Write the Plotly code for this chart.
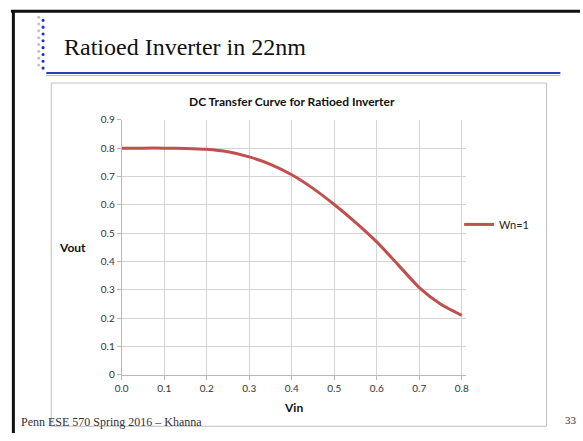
import plotly.graph_objects as go

# ---- data ----
vin = [0.00, 0.05, 0.10, 0.15, 0.20, 0.25, 0.30, 0.35, 0.40, 0.45,
       0.50, 0.55, 0.60, 0.65, 0.70, 0.75, 0.80]
vout = [0.800, 0.800, 0.800, 0.799, 0.796, 0.787, 0.769, 0.743, 0.706, 0.658,
        0.601, 0.538, 0.469, 0.389, 0.308, 0.250, 0.210]
series_name = "Wn=1"
x_tickvals = [0.0, 0.1, 0.2, 0.3, 0.4, 0.5, 0.6, 0.7, 0.8]
x_ticktext = ["0.0", "0.1", "0.2", "0.3", "0.4", "0.5", "0.6", "0.7", "0.8"]
y_tickvals = [0.0, 0.1, 0.2, 0.3, 0.4, 0.5, 0.6, 0.7, 0.8, 0.9]
y_ticktext = ["0", "0.1", "0.2", "0.3", "0.4", "0.5", "0.6", "0.7", "0.8", "0.9"]

slide_title = "Ratioed Inverter in 22nm"
chart_title = "DC Transfer Curve for Ratioed Inverter"
footer = "Penn ESE 570 Spring 2016 \u2013 Khanna"
page_no = "33"

W, H = 583, 441


def fx(x):
    return x / W


def fy(y):
    return 1 - y / H


SANS = "Lato, 'Open Sans', sans-serif"
SERIF = "'Liberation Serif', 'DejaVu Serif', serif"

fig = go.Figure()
fig.add_trace(go.Scatter(
    x=vin, y=vout, mode="lines", name=series_name,
    line=dict(color="#c0504d", width=3, shape="spline", smoothing=0.6),
))

shapes = []
# slide frame
shapes.append(dict(type="line", xref="paper", yref="paper",
                   x0=fx(4), x1=fx(583), y0=fy(5.5), y1=fy(5.5),
                   line=dict(color="#111111", width=3)))
shapes.append(dict(type="line", xref="paper", yref="paper",
                   x0=fx(6.5), x1=fx(6.5), y0=fy(4), y1=fy(438),
                   line=dict(color="#111111", width=3)))
# double rule under title
shapes.append(dict(type="line", xref="paper", yref="paper",
                   x0=fx(40), x1=fx(563), y0=fy(68.8), y1=fy(68.8),
                   line=dict(color="#2b3fb0", width=2)))
shapes.append(dict(type="line", xref="paper", yref="paper",
                   x0=fx(40), x1=fx(563), y0=fy(71.2), y1=fy(71.2),
                   line=dict(color="#a9b3dc", width=1)))
# decorative dots
blue_y = [14.7, 21.7, 28.7, 35.7, 42.7, 49.7, 56.7, 63.7]
gray_y = [11.5, 18.5, 25.5, 32.5, 39.5, 46.5, 53.5, 60.5]
r = 1.6
for yy in blue_y:
    shapes.append(dict(type="circle", xref="paper", yref="paper",
                       x0=fx(36.7 - r), x1=fx(36.7 + r), y0=fy(yy + r), y1=fy(yy - r),
                       fillcolor="#1a35c0", line=dict(width=0)))
for yy in gray_y:
    shapes.append(dict(type="circle", xref="paper", yref="paper",
                       x0=fx(32.3 - r), x1=fx(32.3 + r), y0=fy(yy + r), y1=fy(yy - r),
                       fillcolor="#c4c4c4", line=dict(width=0)))
# chart box
shapes.append(dict(type="rect", xref="paper", yref="paper",
                   x0=fx(45), x1=fx(549), y0=fy(431), y1=fy(79),
                   line=dict(color="#bfbfbf", width=1), layer="below"))

annotations = [
    dict(text=slide_title, x=fx(56), y=fy(42), xref="paper", yref="paper",
         xanchor="left", yanchor="middle", showarrow=False,
         font=dict(family=SERIF, size=24, color="#111111")),
    dict(text="<b>" + chart_title + "</b>", x=fx(290), y=fy(98), xref="paper", yref="paper",
         xanchor="center", yanchor="middle", showarrow=False,
         font=dict(family=SANS, size=12, color="#111111")),
    dict(text="<b>Vout</b>", x=fx(67), y=fy(248), xref="paper", yref="paper",
         xanchor="center", yanchor="middle", showarrow=False,
         font=dict(family=SANS, size=12, color="#111111")),
    dict(text="<b>Vin</b>", x=fx(291.7), y=fy(412), xref="paper", yref="paper",
         xanchor="center", yanchor="middle", showarrow=False,
         font=dict(family=SANS, size=12, color="#111111")),
    dict(text=footer, x=fx(12.5), y=fy(427), xref="paper", yref="paper",
         xanchor="left", yanchor="middle", showarrow=False,
         font=dict(family=SERIF, size=12, color="#333333")),
    dict(text=page_no, x=fx(574), y=fy(424.5), xref="paper", yref="paper",
         xanchor="center", yanchor="middle", showarrow=False,
         font=dict(family=SERIF, size=11, color="#333333")),
]

fig.update_layout(
    width=W, height=H,
    margin=dict(l=0, r=0, t=0, b=0),
    paper_bgcolor="white", plot_bgcolor="white",
    shapes=shapes, annotations=annotations,
    showlegend=True,
    legend=dict(x=fx(460), y=fy(224), xanchor="left", yanchor="middle",
                bgcolor="rgba(0,0,0,0)", itemwidth=30,
                font=dict(family=SANS, size=11, color="#222222")),
    xaxis=dict(domain=[fx(116.7), fx(466.7)], range=[0, 0.8093],
               tickvals=x_tickvals, ticktext=x_ticktext,
               showgrid=True, gridcolor="#d4d4d4", gridwidth=1,
               zeroline=False, showline=True, linecolor="#b8b8b8", linewidth=1,
               ticks="outside", ticklen=4, tickcolor="#b8b8b8",
               tickfont=dict(family=SANS, size=10, color="#333333")),
    yaxis=dict(domain=[fy(378.3), fy(116.7)], range=[0, 0.9],
               tickvals=y_tickvals, ticktext=y_ticktext,
               showgrid=True, gridcolor="#d4d4d4", gridwidth=1,
               zeroline=False, showline=True, linecolor="#b8b8b8", linewidth=1,
               ticks="outside", ticklen=4, tickcolor="#b8b8b8",
               tickfont=dict(family=SANS, size=10, color="#333333")),
)

fig.write_html(
    "out.html",
    config={"displayModeBar": False},
    post_script="document.body.style.margin='0';document.body.style.overflow='hidden';",
)
